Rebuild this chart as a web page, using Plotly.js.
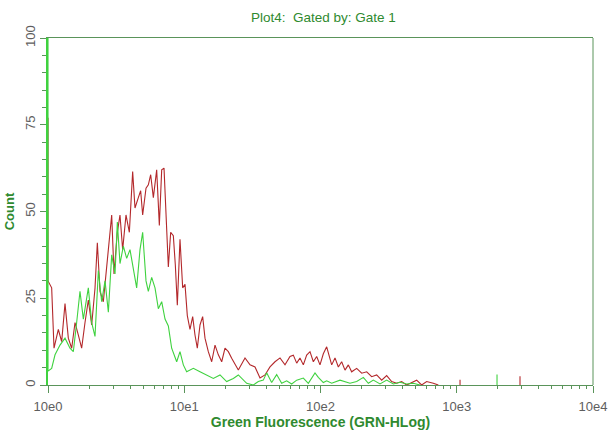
<!DOCTYPE html>
<html>
<head>
<meta charset="utf-8">
<script src="https://cdn.plot.ly/plotly-3.0.1.min.js"></script>
<style>html,body{margin:0;padding:0;background:#fff;}#chart{width:608px;height:431px;}</style>
</head>
<body>
<div id="chart"></div>
<script>
// Fluorescence values (GRN-HLog) and event counts
const redX = [1, 1, 1.064, 1.107, 1.191, 1.26, 1.333, 1.41, 1.492, 1.579,
  1.67, 1.766, 1.869, 1.977, 2.092, 2.213, 2.302, 2.408, 2.547, 2.695,
  2.819, 2.934, 3.051, 3.228, 3.376, 3.532, 3.736, 3.954, 4.182, 4.35,
  4.603, 4.787, 4.952, 5.24, 5.451, 5.67, 5.932, 6.276, 6.564, 6.83,
  7.104, 7.349, 7.643, 7.95, 8.315, 8.601, 8.897, 9.307, 9.736, 10.13,
  10.53, 11.02, 11.53, 11.99, 12.47, 13.05, 13.65, 14.2, 15.02, 15.9,
  16.82, 17.79, 18.83, 19.91, 21.07, 22.29, 23.58, 24.94, 27.92, 30.38,
  33.06, 35.97, 39.14, 42.59, 46.35, 50.44, 54.88, 59.72, 63.18, 66.87,
  70.7, 74.82, 79.16, 83.74, 88.61, 93.74, 99.16, 104.9, 111, 116.1,
  120.8, 127.8, 135.2, 143, 151.3, 160.1, 169.3, 184.3, 200.6, 218.3,
  237.4, 258.4, 281.1, 305.9, 332.9, 362.2, 394.1, 428.9, 466.7, 507.7,
  552.5, 601.2, 673.2, 732.5, null, 1057, 1057, null, 2912, 2912];
const redCount = [77, 30, 28, 10.6, 16, 12.5, 23.5, 13.5, 10.6, 18,
  14.4, 10.6, 18, 24.5, 17.3, 27.9, 41, 27, 24, 34.6,
  42.3, 49, 32, 44, 49, 39, 49, 44, 61.5, 51,
  54, 56, 49, 56.7, 57.7, 60.6, 54, 62, 46, 62,
  62.5, 49, 34, 44, 43, 34.6, 23, 42, 28, 29,
  20, 16, 19.7, 14.4, 10.6, 17.3, 19.7, 13.5, 9.6, 6.7,
  11.5, 8.7, 6.7, 10.6, 9.6, 7.7, 5.8, 4.3, 7.8, 5.8,
  5.2, 2, 2.9, 5.2, 6.7, 7.8, 5.8, 8.2, 8.6, 6.3,
  7.8, 5.8, 8.6, 9.6, 6.7, 8.2, 5.8, 9, 11, 8.6,
  5.8, 7.8, 5.2, 6.7, 4.3, 5.8, 3.8, 4.8, 3.4, 3.8,
  2.4, 2.9, 1.4, 2.7, 1, 0.5, 1, 0, 0.7, 1.4,
  0, 1, 0.5, 0, null, 0, 1.5, null, 0, 2.5];

const greenX = [1, 1, 1.064, 1.126, 1.225, 1.333, 1.45, 1.534, 1.623, 1.717,
  1.817, 1.977, 2.092, 2.213, 2.342, 2.477, 2.621, 2.773, 2.934, 3.104,
  3.228, 3.376, 3.573, 3.78, 3.998, 4.23, 4.475, 4.734, 4.952, 5.24,
  5.451, 5.767, 6.101, 6.454, 6.83, 7.226, 7.643, 8.085, 8.8, 9.307,
  9.845, 10.42, 11.66, 13.05, 14.6, 16.35, 18.3, 20.48, 22.92, 24.94,
  28.72, 32.14, 34.97, 38.05, 40.26, 43.81, 47.68, 51.88, 56.45, 61.43,
  66.87, 74.82, 81.41, 91.13, 96.4, 104.9, 111, 120.8, 139, 164.6,
  184.3, 206.3, 224.5, 244.2, 273.4, 305.9, 342.4, 383.3, 428.9, 480.1,
  537.5, null, 1975, 1975];
const greenCount = [240, 4, 4.8, 8.7, 11.5, 13.5, 10.6, 9.6, 18, 27,
  19, 28, 18, 14, 33, 24, 30, 21, 37.5, 32,
  47, 35, 40, 36.5, 39, 34, 28, 39, 44, 30,
  27, 31, 28, 22, 24, 19, 17, 10.6, 6.7, 9.6,
  5.8, 3.8, 4.8, 3.8, 2.9, 1.9, 2.9, 1, 1.9, 2.9,
  0.5, 0, 1, 1.4, 3.5, 0.7, 3, 0.5, 1.2, 0.3,
  1.4, 2, 0.5, 3.5, 2.2, 0.7, 1.2, 0.5, 1.4, 0.5,
  1, 2.2, 0.5, 1.4, 0.3, 1.4, 0.3, 0.8, 0.3, 0.5,
  0, null, 0, 3];

const xTickVals = [1, 10, 100, 1000, 10000];
const xTickText = ['10e0', '10e1', '10e2', '10e3', '10e4'];
const yTickVals = [0, 25, 50, 75, 100];

const minorX = [];
for (let d = 0; d < 4; d++) for (let m = 2; m <= 9; m++) minorX.push(m * Math.pow(10, d));

const frame = '#5a945a';
const titleGreen = '#2f8a2f';
const greenLine = '#3fd23f';
const font = 'Liberation Sans, Arial, sans-serif';

const traces = [
  {x: redX, y: redCount, type: 'scatter', mode: 'lines', connectgaps: false,
   line: {color: '#b3282b', width: 1.1}, hoverinfo: 'skip'},
  {x: greenX, y: greenCount, type: 'scatter', mode: 'lines', connectgaps: false,
   line: {color: greenLine, width: 1.1}, hoverinfo: 'skip'}
];

const layout = {
  width: 608, height: 431,
  margin: {l: 48, r: 15, t: 38, b: 46, pad: 0},
  paper_bgcolor: '#fff', plot_bgcolor: '#fff',
  showlegend: false, hovermode: false,
  font: {family: font, size: 12, color: '#666'},
  title: {text: 'Plot4:  Gated by: Gate 1', x: 0.532, xanchor: 'center', y: 0.96, yanchor: 'middle',
          font: {family: font, size: 13.5, color: titleGreen}},
  xaxis: {
    type: 'log', range: [0, 4], fixedrange: true,
    tickmode: 'array', tickvals: xTickVals, ticktext: xTickText,
    ticks: 'outside', ticklen: 7, tickwidth: 1, tickcolor: frame,
    showline: true, linecolor: frame, linewidth: 1, mirror: true,
    showgrid: false, zeroline: false,
    tickfont: {family: font, size: 13, color: '#5e5e5e'},
    ticklabelstandoff: 2,
    minor: {tickmode: 'array', tickvals: minorX, ticks: 'outside', ticklen: 3, tickcolor: frame, showgrid: false},
    title: {text: '<b>Green Fluorescence (GRN-HLog)</b>', standoff: 3,
            font: {family: font, size: 14, color: titleGreen}}
  },
  yaxis: {
    range: [0, 100], fixedrange: true,
    tickmode: 'array', tickvals: yTickVals,
    ticks: 'outside', ticklen: 6, tickwidth: 1, tickcolor: frame,
    showline: true, linecolor: greenLine, linewidth: 2, mirror: false,
    showgrid: false, zeroline: false, tickangle: -90,
    tickfont: {family: font, size: 13, color: '#5e5e5e'},
    minor: {dtick: 5, ticks: 'outside', ticklen: 4, tickcolor: frame, showgrid: false},
    title: {text: '<b>Count</b>', standoff: 5,
            font: {family: font, size: 13, color: titleGreen}}
  },
  shapes: [
    {type: 'line', xref: 'paper', yref: 'paper', x0: 1, x1: 1, y0: 0, y1: 1,
     line: {color: frame, width: 1}}
  ]
};

Plotly.newPlot('chart', traces, layout, {displayModeBar: false, staticPlot: true});
</script>
</body>
</html>
